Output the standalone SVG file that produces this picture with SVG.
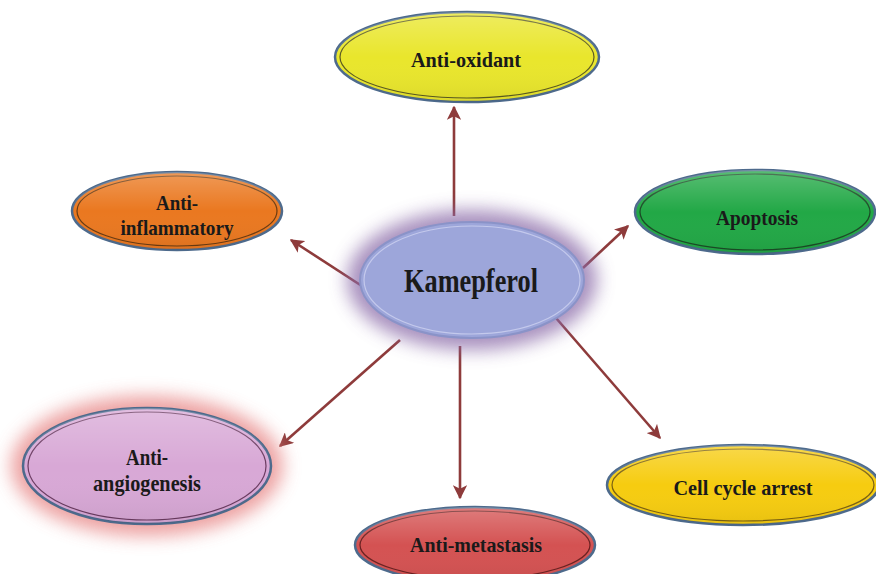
<svg xmlns="http://www.w3.org/2000/svg" width="876" height="574" viewBox="0 0 876 574">
  <defs>
    <filter id="glow" x="-30%" y="-30%" width="160%" height="160%">
      <feGaussianBlur stdDeviation="9"/>
    </filter>
    <marker id="arrow" viewBox="0 0 10 10" refX="9" refY="5" markerWidth="5.4" markerHeight="5.4" orient="auto" markerUnits="strokeWidth">
      <path d="M0,0 L10,5 L0,10 L2.5,5 Z" fill="#8e3b3b"/>
    </marker>
    <linearGradient id="sheen" x1="0" y1="0" x2="0" y2="1">
      <stop offset="0" stop-color="#fff" stop-opacity="0.25"/>
      <stop offset="0.5" stop-color="#fff" stop-opacity="0"/>
      <stop offset="1" stop-color="#000" stop-opacity="0.06"/>
    </linearGradient>
  </defs>
  <style>
    .outer { stroke: #4d6a8c; stroke-width: 2.5; }
    .inner { fill: none; stroke-width: 1.2; }
    .sheen { fill: url(#sheen); }
    .label { font-family: "Liberation Serif", "Times New Roman", serif; font-weight: bold; font-size: 22px; fill: #1a1a1a; text-anchor: middle; }
    .big { font-size: 33px; }
    .mid { font-size: 24px; }
    .conn line { stroke: #8e3b3b; stroke-width: 2.6; marker-end: url(#arrow); }
  </style>
  <rect width="876" height="574" fill="#ffffff"/>

  <g class="conn" id="connectors">
    <line x1="454" y1="216" x2="454" y2="107"/>
    <line x1="365" y1="288" x2="291" y2="240"/>
    <line x1="583" y1="268" x2="628" y2="226"/>
    <line x1="556" y1="318" x2="660" y2="438"/>
    <line x1="400" y1="340" x2="280" y2="446"/>
    <line x1="460" y1="346" x2="460" y2="498"/>
  </g>

  <g id="kamepferol">
    <ellipse cx="472" cy="280" rx="125" ry="70" fill="#8a6aa8" opacity="0.75" filter="url(#glow)"/>
    <ellipse cx="472" cy="280" rx="112" ry="58" fill="#9da6da" stroke="#8a93c8" stroke-width="2"/>
    <ellipse cx="472" cy="280" rx="108" ry="54" class="inner" stroke="#c4c9ec"/>
    <text x="471" y="292" class="label big" textLength="134" lengthAdjust="spacingAndGlyphs">Kamepferol</text>
  </g>

  <g id="anti-oxidant">
    <ellipse cx="467" cy="57" rx="132" ry="45" fill="#e9e62c" class="outer"/>
    <ellipse cx="467" cy="57" rx="127" ry="41" class="inner" stroke="#5a5a20"/>
    <ellipse cx="467" cy="57" rx="132" ry="45" class="sheen"/>
    <text x="466" y="67" class="label" textLength="110" lengthAdjust="spacingAndGlyphs">Anti-oxidant</text>
  </g>

  <g id="anti-inflammatory">
    <ellipse cx="177" cy="211" rx="105" ry="39" fill="#ea7820" class="outer"/>
    <ellipse cx="177" cy="211" rx="100" ry="35" class="inner" stroke="#6a3a10"/>
    <ellipse cx="177" cy="211" rx="105" ry="39" class="sheen"/>
    <text x="177" y="210" class="label" textLength="42" lengthAdjust="spacingAndGlyphs">Anti-</text>
    <text x="177" y="235" class="label" textLength="113" lengthAdjust="spacingAndGlyphs">inflammatory</text>
  </g>

  <g id="apoptosis">
    <ellipse cx="755" cy="212" rx="120" ry="42" fill="#22a846" class="outer"/>
    <ellipse cx="755" cy="212" rx="115" ry="38" class="inner" stroke="#1a4a25"/>
    <ellipse cx="755" cy="212" rx="120" ry="42" class="sheen"/>
    <text x="757" y="225" class="label" textLength="82" lengthAdjust="spacingAndGlyphs">Apoptosis</text>
  </g>

  <g id="anti-angiogenesis">
    <ellipse cx="147" cy="466" rx="136" ry="70" fill="#e88a8a" opacity="0.8" filter="url(#glow)"/>
    <ellipse cx="147" cy="466" rx="124" ry="58" fill="#d8a8d6" class="outer"/>
    <ellipse cx="147" cy="466" rx="119" ry="54" class="inner" stroke="#6a3a60"/>
    <ellipse cx="147" cy="466" rx="124" ry="58" class="sheen"/>
    <text x="147" y="465" class="label mid" textLength="42" lengthAdjust="spacingAndGlyphs">Anti-</text>
    <text x="147" y="491" class="label mid" textLength="108" lengthAdjust="spacingAndGlyphs">angiogenesis</text>
  </g>

  <g id="anti-metastasis">
    <ellipse cx="475" cy="545" rx="120" ry="38" fill="#d45252" class="outer"/>
    <ellipse cx="475" cy="545" rx="115" ry="34" class="inner" stroke="#6a2020"/>
    <ellipse cx="475" cy="545" rx="120" ry="38" class="sheen"/>
    <text x="476" y="552" class="label" textLength="132" lengthAdjust="spacingAndGlyphs">Anti-metastasis</text>
  </g>

  <g id="cell-cycle-arrest">
    <ellipse cx="743" cy="485" rx="136" ry="40" fill="#f6cc10" class="outer"/>
    <ellipse cx="743" cy="485" rx="131" ry="36" class="inner" stroke="#7a6010"/>
    <ellipse cx="743" cy="485" rx="136" ry="40" class="sheen"/>
    <text x="743" y="495" class="label" textLength="139" lengthAdjust="spacingAndGlyphs">Cell cycle arrest</text>
  </g>
</svg>
